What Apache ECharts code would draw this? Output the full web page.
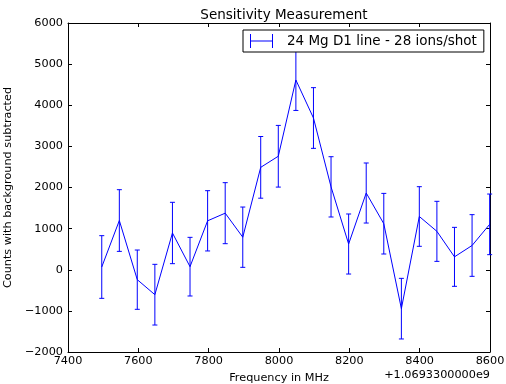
<!DOCTYPE html>
<html><head><meta charset="utf-8">
<script src="https://cdn.jsdelivr.net/npm/echarts@6/dist/echarts.min.js"></script>
<style>html,body{margin:0;padding:0;background:#fff}#c{width:506px;height:384px}</style>
</head><body><div id="c"></div>
<script>
// Frequency offsets (MHz, relative to 1.0693300000e9)
var freq = [7496, 7546, 7597, 7647, 7697, 7747, 7797, 7847, 7897, 7948, 7998, 8048, 8098, 8148, 8198, 8248, 8298, 8348, 8399, 8449, 8499, 8549, 8599];
// Counts with background subtracted
var counts = [67, 1197, -241, -606, 894, 75, 1190, 1376, 792, 2490, 2760, 4614, 3690, 2016, 626, 1866, 1120, -946, 1295, 934, 314, 590, 1104];
// Error bar half-widths
var errs = [762, 750, 721, 738, 746, 713, 733, 742, 733, 750, 750, 740, 738, 733, 730, 730, 737, 737, 725, 730, 717, 750, 737];
var seriesName = '24 Mg D1 line - 28 ions/shot';
var xTicks = {min: 7400, max: 8600, interval: 200};
var yTicks = {min: -2000, max: 6000, interval: 1000};

var font = 'DejaVu Sans';
var blue = '#0000ff';
var lineData = freq.map(function (f, i) { return [f, counts[i]]; });
// vertical error segments, separated by gaps
var barData = [];
freq.forEach(function (f, i) {
  barData.push([f, counts[i] - errs[i]]);
  barData.push([f, counts[i] + errs[i]]);
  barData.push([f, '-']);
});
// cap positions (ends of each error bar)
var capData = [];
freq.forEach(function (f, i) {
  capData.push([f, counts[i] - errs[i]]);
  capData.push([f, counts[i] + errs[i]]);
});

function minusFmt(v) { return String(v).replace('-', '\u2212'); }

var axisCommon = {
  axisLine: {show: true, onZero: false, lineStyle: {color: '#000', width: 1}},
  axisTick: {show: true, inside: true, length: 4, lineStyle: {color: '#000'}},
  splitLine: {show: false},
  minorTick: {show: false}
};
function mk(base, extra) { return Object.assign({}, axisCommon, base, extra); }

var chart = echarts.init(document.getElementById('c'), null, {renderer: 'canvas'});
chart.setOption({
  animation: false,
  backgroundColor: '#fff',
  color: [blue, blue, blue],
  textStyle: {fontFamily: font},
  tooltip: {show: false},
  title: {
    text: 'Sensitivity Measurement', left: 279, top: 3, textAlign: 'center',
    textStyle: {fontFamily: font, fontSize: 13.5, fontWeight: 'normal', color: '#000'}
  },
  grid: {left: 68, right: 16, top: 23, bottom: 32, containLabel: false, outerBoundsMode: 'none'},
  legend: {
    data: [{name: seriesName, icon: 'path://M0,0h1v14h-1zM0,6.5h23v1h-23zM22,0h1v14h-1z'}],
    left: 243, top: 30, padding: [4, 7, 4, 7],
    itemWidth: 23, itemHeight: 14,
    backgroundColor: '#fff', borderColor: '#000', borderWidth: 1, borderRadius: 0,
    textStyle: {fontFamily: font, fontSize: 13.5, color: '#000', padding: [0, 0, 0, 9]}
  },
  xAxis: [
    mk({type: 'value', min: xTicks.min, max: xTicks.max, interval: xTicks.interval, position: 'bottom',
      axisLabel: {show: true, color: '#000', fontFamily: font, fontSize: 11.25, margin: 4, formatter: minusFmt},
      name: 'Frequency in MHz', nameLocation: 'middle', nameGap: 21,
      nameTextStyle: {fontFamily: font, fontSize: 11.25, color: '#000'}}),
    mk({type: 'value', min: xTicks.min, max: xTicks.max, interval: xTicks.interval, position: 'top',
      axisLabel: {show: false}})
  ],
  yAxis: [
    mk({type: 'value', min: yTicks.min, max: yTicks.max, interval: yTicks.interval, position: 'left',
      axisLabel: {show: true, color: '#000', fontFamily: font, fontSize: 11.25, margin: 5, formatter: minusFmt},
      name: 'Counts with background subtracted', nameLocation: 'middle', nameGap: 50,
      nameTextStyle: {fontFamily: font, fontSize: 11.25, color: '#000'}}),
    mk({type: 'value', min: yTicks.min, max: yTicks.max, interval: yTicks.interval, position: 'right',
      axisLabel: {show: false}})
  ],
  graphic: [{
    type: 'text', right: 16, top: 370,
    style: {text: '+1.0693300000e9', font: '11.25px "DejaVu Sans"', fill: '#000'}
  }],
  series: [
    {
      name: seriesName, type: 'line', data: lineData, xAxisIndex: 0, yAxisIndex: 0,
      showSymbol: false, symbol: 'none', clip: true,
      lineStyle: {color: blue, width: 1}, itemStyle: {color: blue}, z: 3
    },
    {
      name: 'errbars', type: 'line', data: barData, xAxisIndex: 0, yAxisIndex: 0,
      showSymbol: false, symbol: 'none', clip: false, connectNulls: false,
      lineStyle: {color: blue, width: 1}, itemStyle: {color: blue}, z: 2
    },
    {
      name: 'caps', type: 'scatter', data: capData, xAxisIndex: 0, yAxisIndex: 0,
      symbol: 'rect', symbolSize: [5, 1], clip: false,
      itemStyle: {color: blue, opacity: 1}, z: 2
    }
  ]
});
</script></body></html>
